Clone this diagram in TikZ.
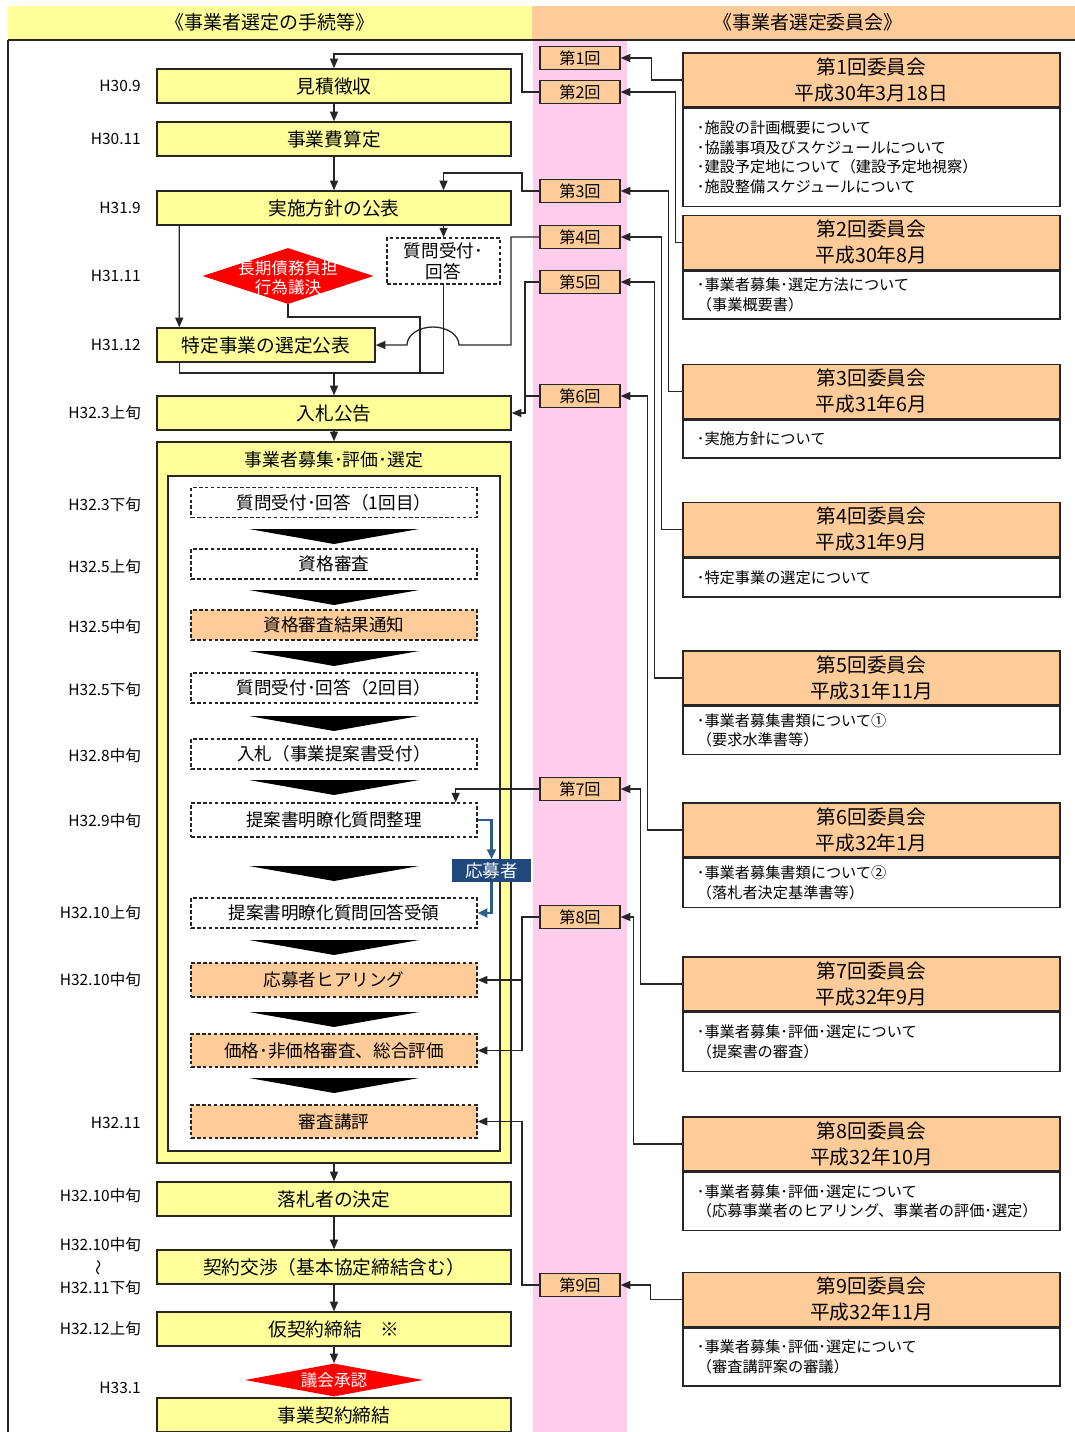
\documentclass[tikz,border=0pt]{standalone}
\usepackage{fontspec}
\setmainfont{Noto Sans CJK JP}
\usetikzlibrary{arrows.meta,shapes.geometric}

\definecolor{boxyellow}{HTML}{FFFF99}
\definecolor{boxorange}{HTML}{FFCC99}
\definecolor{bandpink}{HTML}{FFCCEB}
\definecolor{ouboblue}{HTML}{1F497D}
\definecolor{lineblue}{HTML}{2E5A8C}
\definecolor{linegray}{HTML}{262626}

\tikzset{
  arr/.style={draw=linegray, line width=0.9pt, -{Triangle[length=2.4mm,width=2mm]}},
  link/.style={draw=linegray, line width=0.9pt},
  barr/.style={draw=lineblue, line width=1.6pt, -{Triangle[length=2.4mm,width=2.2mm]}},
  mainbox/.style={draw=linegray, line width=1pt, fill=boxyellow, minimum width=8.85cm, minimum height=0.85cm, inner sep=0pt, font=\fontsize{13.3}{16}\selectfont},
  subbox/.style={draw=linegray, line width=0.9pt, dash pattern=on 2.6pt off 1.6pt, fill=white, minimum width=7.15cm, minimum height=0.75cm, inner sep=0pt, font=\fontsize{12.5}{15}\selectfont},
  subboxor/.style={subbox, fill=boxorange},
  kaibox/.style={draw=linegray, line width=1pt, fill=boxorange, minimum width=2cm, minimum height=0.575cm, inner sep=0pt, font=\fontsize{11.5}{13}\selectfont},
  panelhead/.style={draw=linegray, line width=1pt, fill=boxorange, minimum width=9.425cm, minimum height=1.35cm, inner sep=0pt, align=center, font=\fontsize{14}{18.5}\selectfont},
  panelbody/.style={draw=linegray, line width=1pt, fill=white, anchor=north, text width=8.725cm, inner xsep=0.35cm, inner ysep=0pt, align=left, font=\fontsize{10.8}{13.9}\selectfont},
  datelbl/.style={anchor=east, inner sep=0pt, align=center, font=\fontsize{11}{15.5}\selectfont},
  reddia/.style={diamond, fill=red, inner sep=0pt, text=white},
  hdrtext/.style={font=\fontsize{13.5}{16}\selectfont},
}

\begin{document}
\begin{tikzpicture}[x=0.025cm, y=-0.025cm]
  \useasboundingbox (0,0) rectangle (1075,1432);
  \fill[bandpink] (533,40) rectangle (627,1432);
  \fill[boxyellow] (8,6) rectangle (532,40);
  \fill[boxorange] (532,6) rectangle (1075,40);
  \draw[linegray, line width=1pt] (8,40) -- (1075,40);
  \draw[linegray, line width=1pt] (8,40) -- (8,1432);
  \node[hdrtext] (hdrL) at (270,22) {《事業者選定の手続等》};
  \node[hdrtext] (hdrR) at (808,22) {《事業者選定委員会》};

  \node[datelbl] (d1) at (141,86) {H30.9};
  \node[datelbl] (d2) at (141,139) {H30.11};
  \node[datelbl] (d3) at (141,208) {H31.9};
  \node[datelbl] (d4) at (141,276) {H31.11};
  \node[datelbl] (d5) at (141,345) {H31.12};
  \node[datelbl] (d6) at (141,413) {H32.3上旬};
  \node[datelbl] (d7) at (141,505) {H32.3下旬};
  \node[datelbl] (d8) at (141,567) {H32.5上旬};
  \node[datelbl] (d9) at (141,627) {H32.5中旬};
  \node[datelbl] (d10) at (141,690) {H32.5下旬};
  \node[datelbl] (d11) at (141,756) {H32.8中旬};
  \node[datelbl] (d12) at (141,821) {H32.9中旬};
  \node[datelbl] (d13) at (141,913) {H32.10上旬};
  \node[datelbl] (d14) at (141,980) {H32.10中旬};
  \node[datelbl] (d15) at (141,1123) {H32.11};
  \node[datelbl] (d16) at (141,1196) {H32.10中旬};
  \node[datelbl] (d17) at (141,1266) {H32.10中旬\\\rotatebox[origin=c]{90}{～}\\H32.11下旬};
  \node[datelbl] (d18) at (141,1329) {H32.12上旬};
  \node[datelbl] (d19) at (141,1388) {H33.1};

  \node[mainbox] (mitsu) at (334,86) {見積徴収};
  \node[mainbox] (jigyohi) at (334,139) {事業費算定};
  \node[mainbox] (jisshi) at (334,208) {実施方針の公表};
  \node[reddia, minimum width=4.275cm, minimum height=1.4cm] (kiketsu) at (288,276) {};
  \node[text=white, align=center, inner sep=0pt, font=\fontsize{11.8}{13.5}\selectfont] (kiketsuT) at (288,278) {長期債務負担\\行為議決};
  \node[subbox, minimum width=2.825cm, minimum height=1.15cm, align=center, font=\fontsize{12.5}{15}\selectfont] (qa) at (443.5,261) {質問受付･\\回答};
  \node[mainbox, minimum width=5.45cm] (tokutei) at (266,345) {特定事業の選定公表};
  \node[mainbox] (nyusatsu) at (334,413) {入札公告};

  \node[mainbox, minimum height=18.025cm] (grp) at (334,802.5) {};
  \node[font=\fontsize{12.7}{15}\selectfont] (grpT) at (334,460) {事業者募集･評価･選定};
  \draw[linegray, line width=1pt, fill=white] (168,476) rectangle (500,1151);

  \node[subbox] (q1) at (334,502.5) {質問受付･回答（1回目）};
  \node[subbox] (shikaku) at (334,564) {資格審査};
  \node[subboxor] (tsuchi) at (334,625) {資格審査結果通知};
  \node[subbox] (q2) at (334,688) {質問受付･回答（2回目）};
  \node[subbox] (teishutsu) at (334,754) {入札（事業提案書受付）};
  \node[subbox, minimum height=0.85cm] (teian1) at (334,820) {提案書明瞭化質問整理};
  \node[subbox] (teian2) at (334,913) {提案書明瞭化質問回答受領};
  \node[subboxor, minimum height=0.85cm] (hearing) at (334,980) {応募者ヒアリング};
  \node[subboxor, minimum height=0.825cm] (kakaku) at (334,1050.5) {価格･非価格審査、総合評価};
  \node[subboxor, minimum height=0.825cm] (koho) at (334,1121.5) {審査講評};

  \fill (249,529) -- (419,529) -- (334,544) -- cycle;
  \fill (249,590) -- (419,590) -- (334,605) -- cycle;
  \fill (249,651) -- (419,651) -- (334,666) -- cycle;
  \fill (249,716) -- (419,716) -- (334,731) -- cycle;
  \fill (249,780) -- (419,780) -- (334,795) -- cycle;
  \fill (249,866) -- (419,866) -- (334,881) -- cycle;
  \fill (249,940) -- (419,940) -- (334,955) -- cycle;
  \fill (249,1012) -- (419,1012) -- (334,1027) -- cycle;
  \fill (249,1078) -- (419,1078) -- (334,1093) -- cycle;

  \node[mainbox] (rakusatsu) at (334,1199) {落札者の決定};
  \node[mainbox] (kosho) at (334,1267) {契約交渉（基本協定締結含む）};
  \node[mainbox] (karikei) at (334,1329) {仮契約締結\quad ※};
  \node[mainbox] (keiyaku) at (334,1415) {事業契約締結};
  \node[reddia, minimum width=4.45cm, minimum height=0.825cm, aspect=5.4, font=\fontsize{11.8}{14}\selectfont] (gikai) at (334,1380) {議会承認};

  \node[kaibox] (r1) at (580,58) {第1回};
  \node[kaibox] (r2) at (580,92) {第2回};
  \node[kaibox] (r3) at (580,191) {第3回};
  \node[kaibox] (r4) at (580,237) {第4回};
  \node[kaibox] (r5) at (580,282) {第5回};
  \node[kaibox] (r6) at (580,396) {第6回};
  \node[kaibox] (r7) at (580,789) {第7回};
  \node[kaibox] (r8) at (580,917) {第8回};
  \node[kaibox] (r9) at (580,1285) {第9回};

  \node[panelhead] (p1h) at (871.5,80) {第1回委員会\\平成30年3月18日};
  \node[panelbody, minimum height=2.45cm] (p1b) at (p1h.south) {･施設の計画概要について\\･協議事項及びスケジュールについて\\･建設予定地について（建設予定地視察）\\･施設整備スケジュールについて};
  \node[panelhead] (p2h) at (871.5,242.5) {第2回委員会\\平成30年8月};
  \node[panelbody, minimum height=1.2cm] (p2b) at (p2h.south) {･事業者募集･選定方法について\\（事業概要書）};
  \node[panelhead] (p3h) at (871.5,391.5) {第3回委員会\\平成31年6月};
  \node[panelbody, minimum height=0.95cm] (p3b) at (p3h.south) {･実施方針について};
  \node[panelhead] (p4h) at (871.5,529.5) {第4回委員会\\平成31年9月};
  \node[panelbody, minimum height=0.975cm] (p4b) at (p4h.south) {･特定事業の選定について};
  \node[panelhead] (p5h) at (871.5,678) {第5回委員会\\平成31年11月};
  \node[panelbody, minimum height=1.2cm] (p5b) at (p5h.south) {･事業者募集書類について①\\（要求水準書等）};
  \node[panelhead] (p6h) at (871.5,830) {第6回委員会\\平成32年1月};
  \node[panelbody, minimum height=1.225cm] (p6b) at (p6h.south) {･事業者募集書類について②\\（落札者決定基準書等）};
  \node[panelhead] (p7h) at (871.5,984) {第7回委員会\\平成32年9月};
  \node[panelbody, minimum height=1.475cm] (p7b) at (p7h.south) {･事業者募集･評価･選定について\\（提案書の審査）};
  \node[panelhead] (p8h) at (871.5,1144) {第8回委員会\\平成32年10月};
  \node[panelbody, minimum height=1.45cm] (p8b) at (p8h.south) {･事業者募集･評価･選定について\\（応募事業者のヒアリング、事業者の評価･選定）};
  \node[panelhead] (p9h) at (871.5,1299.5) {第9回委員会\\平成32年11月};
  \node[panelbody, minimum height=1.45cm] (p9b) at (p9h.south) {･事業者募集･評価･選定について\\（審査講評案の審議）};

  \draw[arr] (p1h.west) -- ++(-31,0) |- (r1.east);
  \draw[arr] (p2h.west) -- ++(-7,0) |- (r2.east);
  \draw[arr] (p3h.west) -- ++(-14,0) |- (r3.east);
  \draw[arr] (p4h.west) -- ++(-21,0) |- (r4.east);
  \draw[arr] (p5h.west) -- ++(-28,0) |- (r5.east);
  \draw[arr] (p6h.west) -- ++(-35,0) |- (r6.east);
  \draw[arr] (p7h.west) -- ++(-42,0) |- (r7.east);
  \draw[arr] (p8h.west) -- ++(-49,0) |- (r8.east);
  \draw[arr] (p9h.west) -- ++(-32,0) |- (r9.east);

  \coordinate (mrg) at (334,373);
  \coordinate (v8) at (522,0);
  \draw[arr] (r2.west) -| (522,54) -| (mitsu.north);
  \draw[arr] (mitsu.south) -- (jigyohi.north);
  \draw[arr] (jigyohi.south) -- (jisshi.north);
  \draw[arr] (r3.west) -| (522,173) -| (jisshi.north -| qa.north);
  \draw[arr] (jisshi.south -| qa.north) -- (qa.north);
  \draw[arr] ([xshift=0.575cm]jisshi.south west) -- ([xshift=0.575cm]tokutei.north west);
  \draw[link] (kiketsu.south) |- (420,317) -- (420,373);
  \draw[link] ([xshift=0.575cm]tokutei.south west) |- (qa.south |- mrg) -- (qa.south);
  \draw[arr] (mrg) -- (nyusatsu.north);
  \draw[arr] (r4.west) -| (511,345) -- (459,345) arc[start angle=0, end angle=180, x radius=0.65cm, y radius=0.45cm] -- (tokutei.east);
  \draw[arr] (r5.west) -| (525,413) -- (nyusatsu.east);
  \draw[link] (r6.west) -- ++(-15,0);
  \draw[arr] (nyusatsu.south) -- (grp.north);
  \draw[arr] (r7.west) -| ([xshift=-0.55cm]teian1.north east);
  \draw[barr] (teian1.east) -| (491.5,859);
  \draw[barr] (491.5,882) |- (teian2.east);
  \node[fill=ouboblue, text=white, minimum width=1.975cm, minimum height=0.575cm, inner sep=0pt, font=\fontsize{12.5}{15}\selectfont] (oubo) at (491.5,870.5) {応募者};
  \draw[arr] (r8.west) -| (kakaku.east -| v8) -- (kakaku.east);
  \draw[arr] (hearing.east -| v8) -- (hearing.east);
  \draw[arr] (r9.west) -| (koho.east -| v8) -- (koho.east);
  \draw[arr] (grp.south) -- (rakusatsu.north);
  \draw[arr] (rakusatsu.south) -- (kosho.north);
  \draw[arr] (kosho.south) -- (karikei.north);
  \draw[arr] (karikei.south) -- (gikai.north);
\end{tikzpicture}
\end{document}
